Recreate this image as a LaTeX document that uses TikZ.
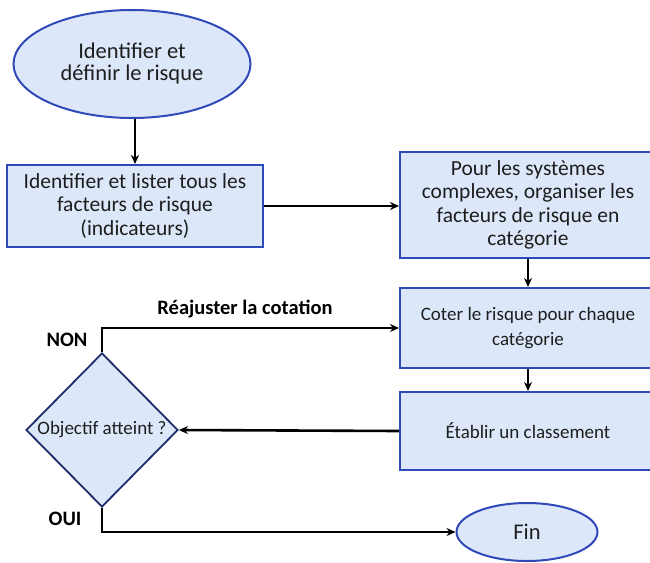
\documentclass[tikz,border=0pt]{standalone}
\usepackage{fontspec}
\setmainfont{Carlito}
\usetikzlibrary{shapes.geometric,arrows.meta}
\definecolor{boxfill}{HTML}{DCE8F9}
\definecolor{boxline}{HTML}{3049B8}
\definecolor{diamline}{HTML}{1F2A6B}
\definecolor{txt}{HTML}{1E1E1E}
\tikzset{
  every node/.style={text=txt},
  stepbox/.style={draw=boxline, line width=2pt, fill=boxfill, rectangle, inner sep=0pt, align=center, font=\fontsize{21.5}{23.5}\selectfont},
  smallbox/.style={stepbox, font=\fontsize{19}{25}\selectfont},
  ovalbox/.style={draw=boxline, line width=2pt, fill=boxfill, ellipse, inner sep=0pt, align=center, font=\fontsize{22.5}{22}\selectfont},
  conn/.style={draw=black, line width=2.6pt, -{Stealth[length=9pt,width=8pt]}},
  lbl/.style={font=\bfseries\fontsize{20.5}{22}\selectfont, text=black}
}
\begin{document}
\begin{tikzpicture}[x=1pt,y=-1pt]
\useasboundingbox (0,0) rectangle (650,562);
\node[ovalbox, minimum width=237, minimum height=108] (e1) at (132,64) {Identifier et\\définir le risque};
\node[stepbox, minimum width=256, minimum height=82] (b1) at (135,206) {Identifier et lister tous les\\facteurs de risque\\(indicateurs)};
\node[stepbox, minimum width=256, minimum height=106] (b2) at (528,205) {Pour les systèmes\\complexes, organiser les\\facteurs de risque en\\catégorie};
\node[smallbox, minimum width=256, minimum height=80] (b3) at (528,328) {Coter le risque pour chaque\\catégorie};
\node[smallbox, minimum width=256, minimum height=78] (b4) at (528,431) {Établir un classement};
\node[draw=diamline, line width=1.8pt, fill=boxfill, diamond, inner sep=0pt, minimum width=152, minimum height=154] (d) at (102,430) {};
\node[font=\fontsize{19}{21}\selectfont] (dt) at (d.center) {Objectif atteint ?};
\node[ovalbox, minimum width=141, minimum height=58] (fin) at (527,532) {Fin};
\draw[conn] (e1.south -| b1.north) -- (b1.north);
\draw[conn] (b1.east) -- (b1.east -| b2.west);
\draw[conn] (b2.south) -- (b3.north);
\draw[conn] (b3.south) -- (b4.north);
\draw[conn] (b4.west) -- (d.east);
\draw[conn] (d.north) |- (b3.west);
\draw[conn] (d.south) |- (fin.west);
\node[lbl] (reaj) at (245,309) {Réajuster la cotation};
\node[lbl] (non) at (67,340) {NON};
\node[lbl] (oui) at (65,519) {OUI};
\end{tikzpicture}
\end{document}
